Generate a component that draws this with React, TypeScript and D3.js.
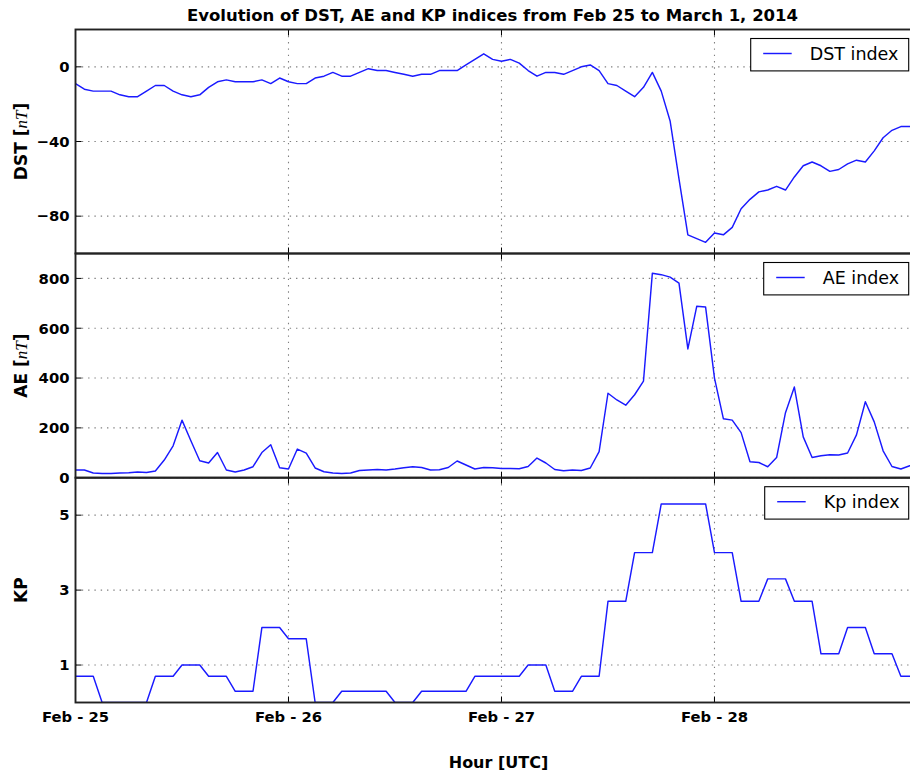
import React from "react";
import * as d3 from "d3";

// ---------- data (hourly, Feb 25 00:00 UTC .. Feb 28 23:00 UTC) ----------
const startUTC = Date.UTC(2014, 1, 25, 0, 0, 0);

const dstValues = [
  -9, -12, -13, -13, -13, -15, -16, -16, -13, -10,
  -10, -13, -15, -16, -15, -11, -8, -7, -8, -8,
  -8, -7, -9, -6, -8, -9, -9, -6, -5, -3,
  -5, -5, -3, -1, -2, -2, -3, -4, -5, -4,
  -4, -2, -2, -2, 1, 4, 7, 4, 3, 4,
  2, -2, -5, -3, -3, -4, -2, 0, 1, -2,
  -9, -10, -13, -16, -11, -3, -13, -29, -60, -90,
  -92, -94, -89, -90, -86, -76, -71, -67, -66, -64,
  -66, -59, -53, -51, -53, -56, -55, -52, -50, -51,
  -45, -38, -34, -32, -32, -32,
];

const aeValues = [
  31, 31, 19, 17, 17, 19, 20, 23, 21, 27,
  71, 128, 231, 148, 68, 59, 101, 31, 23, 31,
  44, 101, 132, 40, 35, 115, 99, 39, 24, 19,
  17, 19, 29, 31, 33, 31, 35, 40, 44, 41,
  31, 32, 41, 67, 51, 35, 41, 40, 37, 37,
  36, 45, 79, 59, 33, 28, 31, 29, 39, 105,
  339, 312, 291, 333, 388, 821, 815, 805, 781, 517,
  688, 685, 400, 237, 231, 181, 64, 61, 44, 81,
  261, 364, 164, 81, 88, 92, 91, 99, 172, 305,
  224, 108, 45, 35, 48, 52,
];

const kpValues = [
  0.7, 0.7, 0.7, 0, 0, 0, 0, 0, 0, 0.7,
  0.7, 0.7, 1.0, 1.0, 1.0, 0.7, 0.7, 0.7, 0.3, 0.3,
  0.3, 2.0, 2.0, 2.0, 1.7, 1.7, 1.7, 0, 0, 0,
  0.3, 0.3, 0.3, 0.3, 0.3, 0.3, 0, 0, 0, 0.3,
  0.3, 0.3, 0.3, 0.3, 0.3, 0.7, 0.7, 0.7, 0.7, 0.7,
  0.7, 1.0, 1.0, 1.0, 0.3, 0.3, 0.3, 0.7, 0.7, 0.7,
  2.7, 2.7, 2.7, 4.0, 4.0, 4.0, 5.3, 5.3, 5.3, 5.3,
  5.3, 5.3, 4.0, 4.0, 4.0, 2.7, 2.7, 2.7, 3.3, 3.3,
  3.3, 2.7, 2.7, 2.7, 1.3, 1.3, 1.3, 2.0, 2.0, 2.0,
  1.3, 1.3, 1.3, 0.7, 0.7, 0.7,
];

const dstTicks = [-80, -40, 0];
const aeTicks = [0, 200, 400, 600, 800];
const kpTicks = [1, 3, 5];

const xTickDates = [
  new Date(Date.UTC(2014, 1, 25)),
  new Date(Date.UTC(2014, 1, 26)),
  new Date(Date.UTC(2014, 1, 27)),
  new Date(Date.UTC(2014, 1, 28)),
];
const xTickLabels = ["Feb - 25", "Feb - 26", "Feb - 27", "Feb - 28"];

const titleText = "Evolution of DST, AE and KP indices from Feb 25 to March 1, 2014";
const xLabelText = "Hour [UTC]";

// ---------- layout ----------
const W = 910;
const H = 773;
const LEFT = 75.5;
const RIGHT = 918.6;
const FONT = "'DejaVu Sans', sans-serif";
const BLUE = "#1a1aff";

const times = dstValues.map((_, i) => new Date(startUTC + i * 3600 * 1000));
const x = d3
  .scaleUtc()
  .domain([times[0], times[times.length - 1]])
  .range([LEFT, RIGHT]);

type Panel = {
  key: string;
  top: number;
  bottom: number;
  domain: [number, number];
  ticks: number[];
  values: number[];
  legend: string;
  legendW: number;
  ylabelMain: string;
  ylabelUnit: string | null;
};

const panels: Panel[] = [
  { key: "dst", top: 29.5, bottom: 253.5, domain: [-100, 20], ticks: dstTicks, values: dstValues, legend: "DST index", legendW: 158, ylabelMain: "DST", ylabelUnit: "nT" },
  { key: "ae", top: 253.5, bottom: 477.7, domain: [0, 900], ticks: aeTicks, values: aeValues, legend: "AE index", legendW: 145, ylabelMain: "AE", ylabelUnit: "nT" },
  { key: "kp", top: 477.7, bottom: 702.5, domain: [0, 6], ticks: kpTicks, values: kpValues, legend: "Kp index", legendW: 144, ylabelMain: "KP", ylabelUnit: null },
];

const fmt = d3.format("d");

function PanelView({ p }: { p: Panel }) {
  const y = d3.scaleLinear().domain(p.domain).range([p.bottom, p.top]);
  const line = d3
    .line<number>()
    .x((_, i) => x(times[i]))
    .y((d) => y(d));
  const clipId = `clip-${p.key}`;
  const gridStyle = { stroke: "#808080", strokeWidth: 1.1, strokeDasharray: "1.4,4.9" };
  const legTop = p.top + 9;
  const legRight = 908.7;
  const legLeft = legRight - p.legendW;
  const midY = (p.top + p.bottom) / 2;
  return (
    <g>
      <defs>
        <clipPath id={clipId}>
          <rect x={LEFT} y={p.top} width={RIGHT - LEFT} height={p.bottom - p.top} />
        </clipPath>
      </defs>
      {/* grid */}
      {p.ticks.map((t) => (
        <line key={`hg${t}`} x1={LEFT} x2={RIGHT} y1={y(t)} y2={y(t)} {...gridStyle} />
      ))}
      {xTickDates.slice(1).map((d, i) => (
        <line key={`vg${i}`} x1={x(d)} x2={x(d)} y1={p.top} y2={p.bottom} {...gridStyle} />
      ))}
      {/* data */}
      <path
        d={line(p.values) || ""}
        fill="none"
        stroke={BLUE}
        strokeWidth={1.45}
        strokeLinejoin="round"
        clipPath={`url(#${clipId})`}
      />
      {/* ticks */}
      {p.ticks.map((t) => (
        <line key={`yt${t}`} x1={LEFT} x2={LEFT + 6} y1={y(t)} y2={y(t)} stroke="#000" strokeWidth={1} />
      ))}
      {xTickDates.map((d, i) => (
        <g key={`xt${i}`}>
          <line x1={x(d)} x2={x(d)} y1={p.top} y2={p.top + 6} stroke="#000" strokeWidth={1} />
          <line x1={x(d)} x2={x(d)} y1={p.bottom} y2={p.bottom - 6} stroke="#000" strokeWidth={1} />
        </g>
      ))}
      {/* spines */}
      <rect
        x={LEFT}
        y={p.top}
        width={RIGHT - LEFT}
        height={p.bottom - p.top}
        fill="none"
        stroke="#222"
        strokeWidth={1.9}
      />
      {/* tick labels */}
      {p.ticks.map((t) => (
        <text
          key={`yl${t}`}
          x={LEFT - 6}
          y={y(t)}
          dy="0.36em"
          textAnchor="end"
          fontFamily={FONT}
          fontWeight="bold"
          fontSize={14.8}
          fill="#000"
        >
          {fmt(t)}
        </text>
      ))}
      {/* y label */}
      <text
        transform={`translate(26.7, ${midY}) rotate(-90)`}
        textAnchor="middle"
        fontFamily={FONT}
        fontWeight="bold"
        fontSize={17}
        fill="#000"
      >
        {p.ylabelMain}
        {p.ylabelUnit ? (
          <>
            {" ["}
            <tspan fontFamily="'Liberation Serif', serif" fontStyle="italic" fontWeight="normal">
              {p.ylabelUnit}
            </tspan>
            {"]"}
          </>
        ) : null}
      </text>
      {/* legend */}
      <rect x={legLeft} y={legTop} width={p.legendW} height={32.4} fill="#fff" stroke="#000" strokeWidth={1.1} />
      <line x1={legLeft + 12.5} x2={legLeft + 41} y1={legTop + 15} y2={legTop + 15} stroke={BLUE} strokeWidth={1.45} />
      <text x={legLeft + 59} y={legTop + 21.2} fontFamily={FONT} fontSize={17.5} fill="#000">
        {p.legend}
      </text>
    </g>
  );
}

export default function App() {
  const bottom = panels[panels.length - 1].bottom;
  return (
    <svg
      width={W}
      height={H}
      viewBox={`0 0 ${W} ${H}`}
      style={{ position: "absolute", left: 0, top: 0, background: "#fff" }}
    >
      <rect x={0} y={0} width={W} height={H} fill="#fff" />
      <text x={492.5} y={21} textAnchor="middle" fontFamily={FONT} fontWeight="bold" fontSize={16.5} fill="#000">
        {titleText}
      </text>
      {panels.map((p) => (
        <PanelView key={p.key} p={p} />
      ))}
      {xTickDates.map((d, i) => (
        <text
          key={`xl${i}`}
          x={x(d)}
          y={bottom + 19}
          textAnchor="middle"
          fontFamily={FONT}
          fontWeight="bold"
          fontSize={14.8}
          fill="#000"
        >
          {xTickLabels[i]}
        </text>
      ))}
      <text x={498.5} y={767.5} textAnchor="middle" fontFamily={FONT} fontWeight="bold" fontSize={16} fill="#000">
        {xLabelText}
      </text>
    </svg>
  );
}
